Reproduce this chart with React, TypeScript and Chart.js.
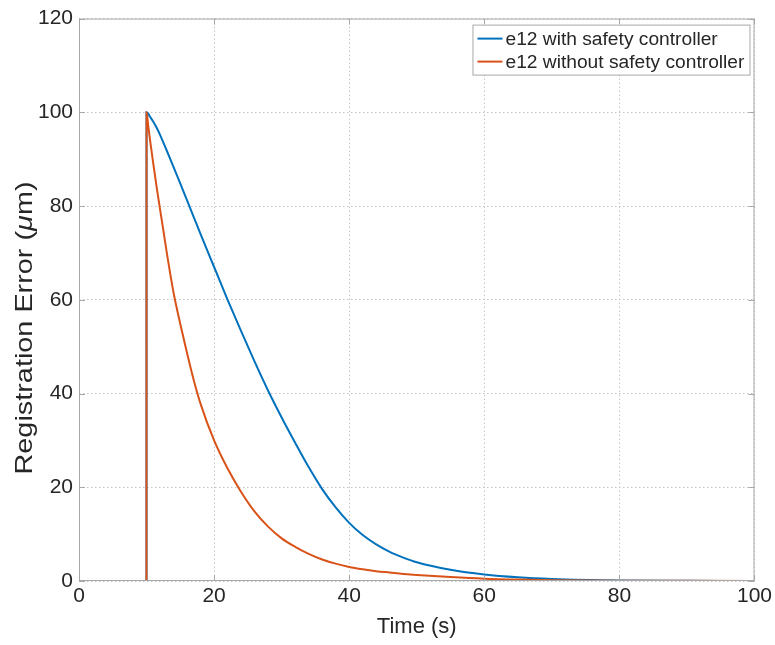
import { useEffect, useRef } from "react";
import { Chart, registerables } from "chart.js";

Chart.register(...registerables);

// ---- data ----
const timeSeconds = [
  0, 9.99, 10, 10.25, 10.5, 11, 11.5, 12, 12.5, 13, 14, 15, 16, 17, 18, 20, 22, 24, 26, 28,
  30, 32, 34, 36, 38, 40, 42, 44, 46, 48, 50, 55, 60, 65, 70, 80, 90, 100,
];
const withSafety = [
  0, 0, 100, 99.7, 99.1, 98.0, 96.7, 95.2, 93.5, 91.8, 88.3, 84.8, 81.2, 77.6, 74.0, 67.0,
  60.0, 53.3, 46.8, 40.6, 34.9, 29.5, 24.3, 19.6, 15.7, 12.4, 9.8, 7.8, 6.2, 5.0, 4.0, 2.4,
  1.4, 0.8, 0.45, 0.13, 0.04, 0.01,
];
const withoutSafety = [
  0, 0, 100, 97.1, 94.3, 89.0, 84.0, 79.3, 74.7, 70.0, 61.5, 54.8, 48.6, 42.8, 37.8, 30.0,
  24.0, 19.0, 14.8, 11.6, 9.1, 7.3, 5.8, 4.6, 3.7, 3.0, 2.5, 2.1, 1.8, 1.5, 1.3, 0.85, 0.5,
  0.3, 0.18, 0.07, 0.03, 0.01,
];
const seriesLabels = ["e12 with safety controller", "e12 without safety controller"];
const seriesColors = ["#0072BD", "#D95319"];
const xTicks = [0, 20, 40, 60, 80, 100];
const yTicks = [0, 20, 40, 60, 80, 100, 120];
const xTitle = "Time (s)";
const yTitleParts = [
  { text: "Registration Error (", italic: false },
  { text: "μ", italic: true },
  { text: "m)", italic: false },
];

const FONT = '"Liberation Sans", Arial, Helvetica, sans-serif';
const TEXT = "#262626";
const FRAME = "#a8a8a8";
const GRID = "#c4c4c4";

const framePlugin = {
  id: "matlabFrame",
  afterDatasetsDraw(chart: any) {
    const { ctx, chartArea: a, scales } = chart;
    ctx.save();
    ctx.strokeStyle = FRAME;
    ctx.lineWidth = 1;
    ctx.strokeRect(a.left + 0.5, a.top + 0.5, a.right - a.left - 1, a.bottom - a.top - 1);
    const tl = 6;
    ctx.beginPath();
    xTicks.forEach((v) => {
      const x = Math.round(scales.x.getPixelForValue(v)) + 0.5;
      ctx.moveTo(x, a.bottom);
      ctx.lineTo(x, a.bottom - tl);
      ctx.moveTo(x, a.top);
      ctx.lineTo(x, a.top + tl);
    });
    yTicks.forEach((v) => {
      const y = Math.round(scales.y.getPixelForValue(v)) + 0.5;
      ctx.moveTo(a.left, y);
      ctx.lineTo(a.left + tl, y);
      ctx.moveTo(a.right, y);
      ctx.lineTo(a.right - tl, y);
    });
    ctx.stroke();
    ctx.restore();
  },
  afterDraw(chart: any) {
    const { ctx, chartArea: a } = chart;
    // legend box
    ctx.save();
    const w = 277;
    const h = 50;
    const x0 = a.right - 5 - w;
    const y0 = a.top + 6;
    ctx.fillStyle = "#ffffff";
    ctx.fillRect(x0, y0, w, h);
    ctx.strokeStyle = FRAME;
    ctx.lineWidth = 1;
    ctx.strokeRect(x0 + 0.5, y0 + 0.5, w, h);
    ctx.font = `19.2px ${FONT}`;
    ctx.textBaseline = "middle";
    ctx.textAlign = "left";
    chart.data.datasets.forEach((ds: any, i: number) => {
      const cy = y0 + 14 + i * 23;
      ctx.strokeStyle = ds.borderColor;
      ctx.lineWidth = 2;
      ctx.beginPath();
      ctx.moveTo(x0 + 5, cy);
      ctx.lineTo(x0 + 30, cy);
      ctx.stroke();
      ctx.fillStyle = TEXT;
      ctx.fillText(ds.label, x0 + 33, cy + 1);
    });
    ctx.restore();

    // y axis title (rotated, with italic mu)
    ctx.save();
    const size = 24;
    const fonts = yTitleParts.map((p) => `${p.italic ? "italic " : ""}${size}px ${FONT}`);
    const widths = yTitleParts.map((p, i) => {
      ctx.font = fonts[i];
      return ctx.measureText(p.text).width;
    });
    const total = widths.reduce((s, v) => s + v, 0);
    const target = 293;
    ctx.translate(31.5, 328);
    ctx.rotate(-Math.PI / 2);
    ctx.scale(target / total, 1);
    ctx.fillStyle = TEXT;
    ctx.textBaseline = "alphabetic";
    ctx.textAlign = "left";
    let x = -total / 2;
    yTitleParts.forEach((p, i) => {
      ctx.font = fonts[i];
      ctx.fillText(p.text, x, 0);
      x += widths[i];
    });
    ctx.restore();
  },
};

export default function App() {
  const ref = useRef<HTMLCanvasElement | null>(null);
  useEffect(() => {
    if (!ref.current) return;
    const points = (ys: number[]) => timeSeconds.map((t, i) => ({ x: t, y: ys[i] }));
    const chart = new Chart(ref.current, {
      type: "line",
      data: {
        datasets: [
          {
            label: seriesLabels[0],
            data: points(withSafety),
            borderColor: seriesColors[0],
            backgroundColor: seriesColors[0],
            borderWidth: 2,
            pointRadius: 0,
            cubicInterpolationMode: "monotone",
            order: 1,
          },
          {
            label: seriesLabels[1],
            data: points(withoutSafety),
            borderColor: seriesColors[1],
            backgroundColor: seriesColors[1],
            borderWidth: 2,
            pointRadius: 0,
            cubicInterpolationMode: "monotone",
            order: 0,
          },
        ],
      },
      options: {
        responsive: false,
        animation: false,
        layout: { padding: { top: 17, right: 20, left: 0, bottom: 0 } },
        plugins: {
          legend: { display: false },
          tooltip: { enabled: false },
        },
        scales: {
          x: {
            type: "linear",
            min: 0,
            max: 100,
            afterBuildTicks: (s: any) => {
              s.ticks = xTicks.map((v) => ({ value: v }));
            },
            afterFit: (s: any) => {
              s.height = 64;
            },
            ticks: {
              font: { family: FONT, size: 21 },
              color: TEXT,
              padding: 3,
              maxRotation: 0,
            },
            grid: { color: GRID, drawTicks: false, tickLength: 0 },
            border: { display: false, dash: [1.5, 2.5] },
            title: {
              display: true,
              text: xTitle,
              font: { family: FONT, size: 22 },
              color: TEXT,
              padding: { top: 0, bottom: 5 },
            },
          },
          y: {
            type: "linear",
            min: 0,
            max: 120,
            afterBuildTicks: (s: any) => {
              s.ticks = yTicks.map((v) => ({ value: v }));
            },
            afterFit: (s: any) => {
              s.width = 79;
            },
            ticks: {
              font: { family: FONT, size: 21 },
              color: TEXT,
              padding: 6,
            },
            grid: { color: GRID, drawTicks: false, tickLength: 0 },
            border: { display: false, dash: [1.5, 2.5] },
            title: { display: false },
          },
        },
      },
      plugins: [framePlugin],
    });
    return () => chart.destroy();
  }, []);
  return (
    <div style={{ position: "absolute", left: 0, top: 0, width: 775, height: 645, background: "#fff" }}>
      <canvas ref={ref} width={775} height={645} />
    </div>
  );
}
